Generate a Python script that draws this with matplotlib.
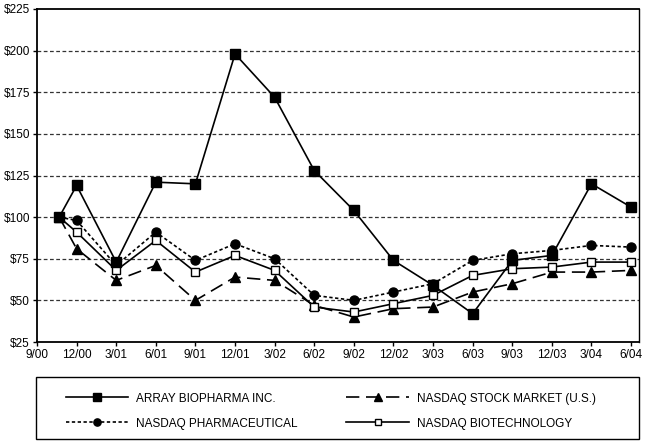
import matplotlib
matplotlib.use("Agg")
import matplotlib.pyplot as plt
from matplotlib.patches import Rectangle

plt.rcParams['font.family'] = ['Liberation Sans', 'DejaVu Sans']

# Data (x: quarter index, 0 = 9/00; first point is the 11/00 IPO date)
x_pos = [0.56, 1, 2, 3, 4, 5, 6, 7, 8, 9, 10, 11, 12, 13, 14, 15]
tick_labels = ["9/00", "12/00", "3/01", "6/01", "9/01", "12/01", "3/02", "6/02",
               "9/02", "12/02", "3/03", "6/03", "9/03", "12/03", "3/04", "6/04"]
array_bio = [100, 119, 73, 121, 120, 198, 172, 128, 104, 74, 59, 42, 74, 77, 120, 106]
nasdaq_mkt = [100, 81, 62, 71, 50, 64, 62, 47, 40, 45, 46, 55, 60, 67, 67, 68]
nasdaq_pharma = [100, 98, 71, 91, 74, 84, 75, 53, 50, 55, 60, 74, 78, 80, 83, 82]
nasdaq_bio = [100, 91, 68, 86, 67, 77, 68, 46, 43, 48, 53, 65, 69, 70, 73, 73]
series_names = ["ARRAY BIOPHARMA INC.", "NASDAQ STOCK MARKET (U.S.)",
                "NASDAQ PHARMACEUTICAL", "NASDAQ BIOTECHNOLOGY"]
y_ticks = [25, 50, 75, 100, 125, 150, 175, 200, 225]

fig = plt.figure(figsize=(6.45, 4.41), dpi=100)
ax = fig.add_axes([37/645, 1-342/441, (639-37)/645, (342-9)/441])

lw = 1.2
l1, = ax.plot(x_pos, array_bio, color='black', lw=lw, marker='s', ms=6.5,
              mfc='black', mec='black', zorder=5)
l2, = ax.plot(x_pos, nasdaq_mkt, color='black', lw=lw, dashes=(8, 4), marker='^',
              ms=7, mfc='black', mec='black', zorder=4)
l3, = ax.plot(x_pos, nasdaq_pharma, color='black', lw=lw, dashes=(2, 1.5), marker='o',
              ms=6.5, mfc='black', mec='black', zorder=3)
l4, = ax.plot(x_pos, nasdaq_bio, color='black', lw=lw, marker='s', ms=6,
              mfc='white', mec='black', mew=1.0, zorder=4)

ax.set_xlim(0, 15.2)
ax.set_ylim(25, 225)
ax.set_xticks(range(len(tick_labels)))
ax.set_xticklabels(tick_labels, fontsize=8.5)
ax.set_yticks(y_ticks)
ax.set_yticklabels(["${}".format(v) for v in y_ticks], fontsize=8.5)
ax.tick_params(axis='both', length=3, width=1, color='black', pad=2)
ax.tick_params(axis='x', direction='out')
for v in y_ticks[1:-1]:
    ax.axhline(v, color='#333333', lw=0.9, dashes=(3, 2), zorder=1)
for s in ax.spines.values():
    s.set_linewidth(1.3)
ax.spines['right'].set_linewidth(1.0)

# Legend box
fig.patches.append(Rectangle((36/645, 2/441), (639-36)/645, (439-377)/441,
                             transform=fig.transFigure, fill=False,
                             edgecolor='black', lw=1.0))
fig.legend([l1, l3, l2, l4],
           [series_names[0], series_names[2], series_names[1], series_names[3]],
           loc='upper left', bbox_to_anchor=(55/645, 1-382/441), ncol=2,
           frameon=False, fontsize=8.5, handlelength=5.3, handletextpad=0.7,
           columnspacing=4.1, labelspacing=1.1, markerscale=0.8, borderpad=0.4)

fig.savefig("out.png", dpi=100)
